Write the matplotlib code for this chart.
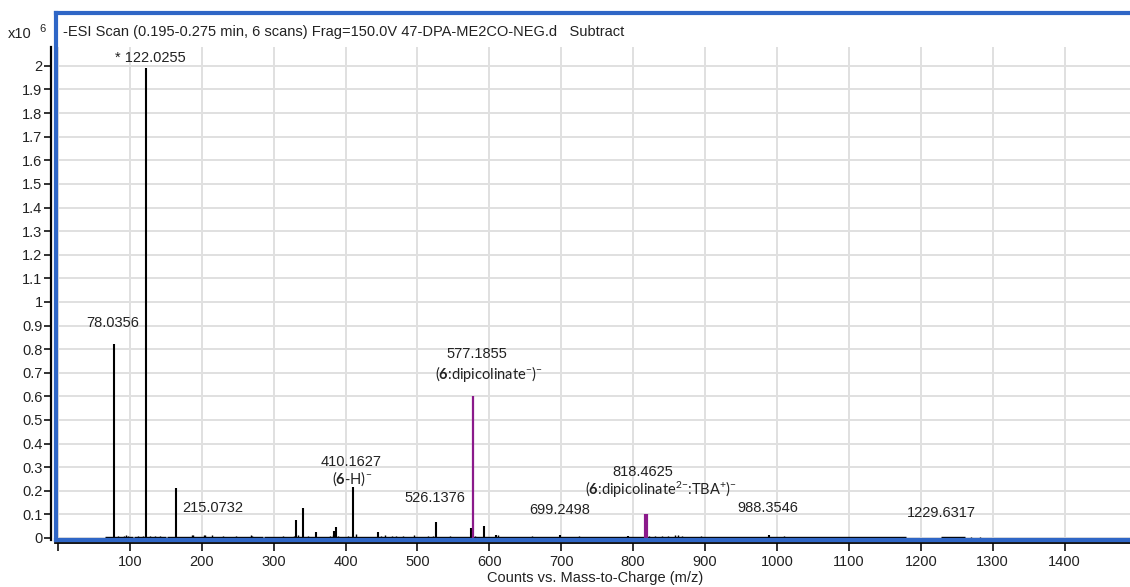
import numpy as np
import matplotlib
matplotlib.use("Agg")
import matplotlib.pyplot as plt
from matplotlib.lines import Line2D

plt.rcParams['font.family'] = ['Liberation Sans', 'DejaVu Sans']
plt.rcParams['mathtext.fontset'] = 'custom'
plt.rcParams['mathtext.default'] = 'regular'
plt.rcParams['mathtext.bf'] = 'Lato:bold'
plt.rcParams['mathtext.rm'] = 'Lato'

# Pics principaux (m/z, intensite x10^6)
mz_noir = [78.04, 122.03, 164.0, 331.5, 340.5, 359.5, 384.5, 386.5, 410.16,
           445.5, 526.14, 575.0, 592.0, 609.5, 698.5, 793.5, 988.35]
int_noir = [0.82, 1.99, 0.213, 0.076, 0.128, 0.024, 0.028, 0.048, 0.214,
            0.027, 0.069, 0.044, 0.050, 0.012, 0.012, 0.010, 0.012]

mz_violet = [576.9, 818.2]
int_violet = [0.60, 0.10]
lw_violet = [1.6, 3.0]

# Petits pics de bruit
mz_bruit = [70, 84, 92, 95, 97, 112, 118, 128, 135, 142, 186, 188, 203, 205,
            215, 230, 248, 268, 270, 300, 313, 328, 334, 348, 378, 383, 390,
            403, 415, 450, 455, 465, 470, 480, 495, 515, 522, 545, 565, 580,
            612, 660, 725, 822, 830, 840, 848, 858, 862, 868, 895, 925, 945,
            1010, 1050, 1090, 1120, 1150, 1240, 1255, 1270, 1282]
int_bruit = [0.006, 0.007, 0.010, 0.012, 0.009, 0.008, 0.009, 0.010, 0.008,
             0.007, 0.012, 0.014, 0.013, 0.012, 0.012, 0.009, 0.008, 0.012,
             0.010, 0.006, 0.007, 0.009, 0.011, 0.007, 0.008, 0.012, 0.010,
             0.008, 0.016, 0.010, 0.012, 0.008, 0.008, 0.007, 0.012, 0.008,
             0.009, 0.007, 0.006, 0.010, 0.014, 0.008, 0.007, 0.010, 0.009,
             0.008, 0.009, 0.012, 0.011, 0.009, 0.007, 0.006, 0.006, 0.007,
             0.006, 0.006, 0.006, 0.006, 0.005, 0.005, 0.005, 0.004]

# Segments de ligne de base
base_debut = [65, 106, 152, 287, 1228]
base_fin = [104, 150, 285, 1180, 1262]

# Etiquettes
etiq_mz = ["78.0356", "* 122.0255", "215.0732", "410.1627", "526.1376",
           "577.1855", "699.2498", "818.4625", "988.3546", "1229.6317"]
etiq_x = [76, 129, 215, 408, 524, 583, 698, 813, 987, 1229]
etiq_y = [0.91, 2.035, 0.127, 0.322, 0.17, 0.78, 0.119, 0.281, 0.127, 0.107]

ions = [r"($\mathbf{6}$-H)$^{{-}}$",
        r"($\mathbf{6}$:dipicolinate$^{{-}}$)$^{{-}}$",
        r"($\mathbf{6}$:dipicolinate$^{2{-}}$:TBA$^{{+}}$)$^{{-}}$"]
ions_x = [409, 600, 838]
ions_y = [0.25, 0.695, 0.203]

W, H = 1130, 587
fig = plt.figure(figsize=(W / 100, H / 100), dpi=100)
ax = fig.add_axes([55 / W, 1 - 540 / H, (W - 55) / W, (540 - 47) / H])

ax.hlines([0.003] * len(base_debut), base_debut, base_fin, color='black', lw=1.0)
ax.vlines(mz_bruit, 0, int_bruit, color='black', lw=1.0)
ax.vlines(mz_noir, 0, int_noir, color='black', lw=1.5)
ax.vlines(mz_violet, 0, int_violet, color='#8b1a8b', lw=lw_violet)

for t, x, y in zip(etiq_mz, etiq_x, etiq_y):
    ax.text(x, y, t, ha='center', va='center', fontsize=10.5, color='#222222')
for t, x, y in zip(ions, ions_x, ions_y):
    ax.text(x, y, t, ha='center', va='center', fontsize=10.5, color='#222222',
            family=['Lato', 'DejaVu Sans'])

ax.set_xlim(-4, 1491)
ax.set_ylim(-0.0085, 2.08)
ax.set_xticks(np.arange(0, 1401, 100))
ax.set_xticklabels([''] + [str(v) for v in range(100, 1401, 100)])
yt = np.round(np.arange(0, 2.01, 0.1), 1)
ax.set_yticks(yt)
ax.set_yticklabels([f"{v:g}" for v in yt])
ax.tick_params(axis='both', labelsize=10.5, colors='#222222', width=1.3)
ax.tick_params(axis='y', length=5, pad=1)
ax.tick_params(axis='x', length=6, pad=3)
ax.grid(True, color='#e0e0e0', lw=1.4)
ax.set_axisbelow(True)

for s in ['top', 'right']:
    ax.spines[s].set_visible(False)
ax.spines['left'].set_position(('outward', 3))
ax.spines['bottom'].set_position(('outward', 2))
ax.spines['left'].set_linewidth(1.6)
ax.spines['bottom'].set_linewidth(1.3)

# Cadre bleu
bleu = '#2f66c6'
fig.add_artist(Line2D([56 / W, 1], [1 - 13 / H, 1 - 13 / H], color=bleu, lw=3,
                      transform=fig.transFigure))
fig.add_artist(Line2D([56 / W, 56 / W], [1 - 13 / H, 1 - 540 / H], color=bleu, lw=3,
                      transform=fig.transFigure))
fig.add_artist(Line2D([56 / W, 1], [1 - 540 / H, 1 - 540 / H], color=bleu, lw=3,
                      transform=fig.transFigure))

fig.text(63 / W, 1 - 32 / H,
         "-ESI Scan (0.195-0.275 min, 6 scans) Frag=150.0V 47-DPA-ME2CO-NEG.d   Subtract",
         fontsize=10.5, va='center', color='#222222')
fig.text(8 / W, 1 - 34 / H, "x10", fontsize=10.5, va='center', color='#222222')
fig.text(39 / W, 1 - 29 / H, "6", fontsize=8, va='center', color='#222222')
fig.text(595 / W, 1 - 578 / H, "Counts vs. Mass-to-Charge (m/z)", fontsize=10.5,
         ha='center', va='center', color='#222222')

fig.savefig("out.png", dpi=100)
